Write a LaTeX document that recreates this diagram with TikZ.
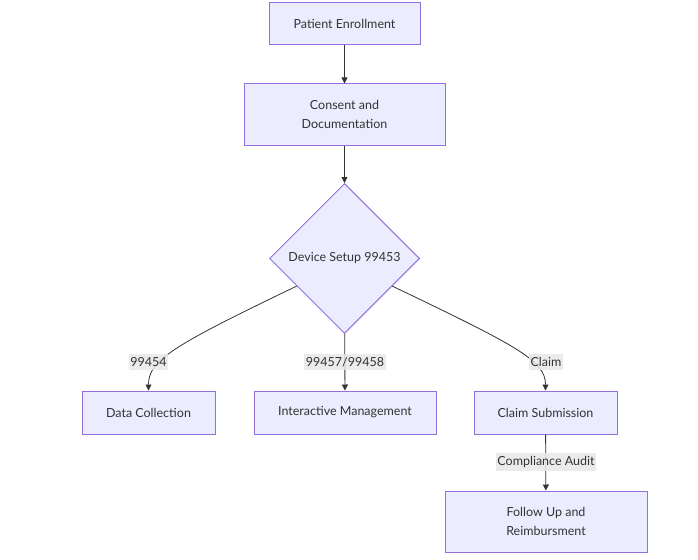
\documentclass[tikz,border=0pt]{standalone}
\usepackage{fontspec}
\setmainfont{Lato}
\usetikzlibrary{shapes.geometric,arrows.meta}
\definecolor{boxfill}{HTML}{ECECFF}
\definecolor{boxline}{HTML}{9370DB}
\definecolor{ink}{HTML}{333333}
\definecolor{lblbg}{HTML}{E8E8E8}
\tikzset{
    stepbox/.style={draw=boxline, fill=boxfill, line width=1pt, text=ink,
        font=\fontsize{12.5}{19}\selectfont, align=center, inner sep=0pt},
    decide/.style={diamond, draw=boxline, fill=boxfill, line width=1pt, text=ink,
        font=\fontsize{12.5}{19}\selectfont, minimum width=150pt, minimum height=150pt, inner sep=0pt},
    edge/.style={draw=ink, line width=0.8pt, -{Triangle[length=6pt,width=6pt]}},
    lbl/.style={fill=lblbg, fill opacity=0.85, text opacity=1, text=ink,
        font=\fontsize{12.5}{14}\selectfont, inner xsep=1.5pt, inner ysep=3pt}
}
\begin{document}
\begin{tikzpicture}[x=1pt, y=-1pt]
    \useasboundingbox (0,0) rectangle (698,559);
    % top chain
    \node[stepbox, minimum width=151pt, minimum height=42pt] (enrol) at (344.5,24) {Patient Enrollment};
    \node[stepbox, minimum width=201pt, minimum height=61pt] (consent) at (344.5,114.5) {Consent and\\Documentation};
    \node[decide] (setup) at (344.5,258.5) {Device Setup 99453};

    % bottom row
    \node[stepbox, minimum width=133pt, minimum height=43pt] (collect) at (148.5,412.5) {Data Collection};
    \node[stepbox, minimum width=182pt, minimum height=43pt] (manage) at (345,412.5) {Interactive Management};
    \node[stepbox, minimum width=143pt, minimum height=43pt] (claim) at (545.5,412.5) {Claim Submission};
    \node[stepbox, minimum width=202pt, minimum height=61pt] (follow) at (546,521.5) {Follow Up and\\Reimbursment};

    % edges
    \draw[edge] (enrol) -- (consent);
    \draw[edge] (consent) -- (setup);
    \draw[edge] (setup.-150) .. controls +(-125,60) and +(0,-30) .. (collect.north);
    \draw[edge] (setup) -- (manage);
    \draw[edge] (setup.-30) .. controls +(125,60) and +(0,-30) .. (claim.north);
    \draw[edge] (claim) -- (follow);

    % labels
    \node[lbl] (l1) at (148.5,362) {99454};
    \node[lbl] (l2) at (345,362) {99457/99458};
    \node[lbl] (l3) at (546,362) {Claim};
    \node[lbl] (l4) at (546,462) {Compliance Audit};
\end{tikzpicture}
\end{document}
